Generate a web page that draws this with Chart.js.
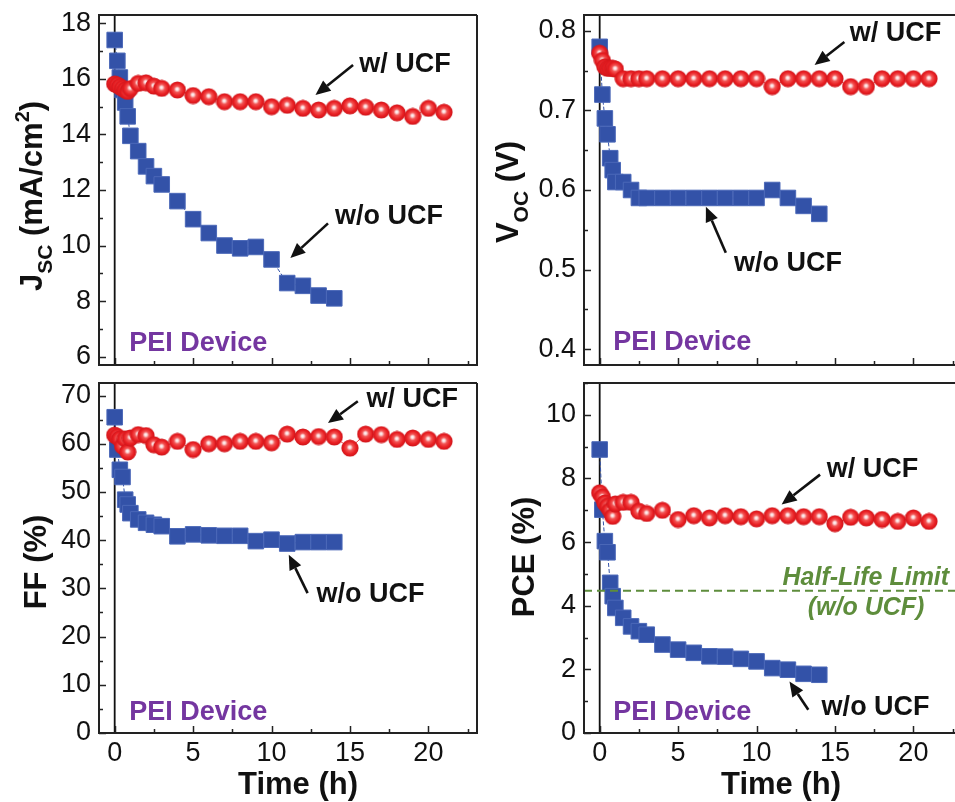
<!DOCTYPE html>
<html>
<head>
<meta charset="utf-8">
<title>PEI device stability</title>
<script src="https://cdn.jsdelivr.net/npm/chart.js@4.4.0/dist/chart.umd.min.js"></script>
<style>
  html, body { margin: 0; padding: 0; background: #fff; width: 955px; height: 802px; overflow: hidden; }
  .panel { position: absolute; }
</style>
</head>
<body>
<canvas class="panel" id="c-jsc" width="480" height="385" style="left:0;top:0"></canvas>
<canvas class="panel" id="c-voc" width="490" height="385" style="left:478px;top:0"></canvas>
<canvas class="panel" id="c-ff" width="480" height="422" style="left:0;top:380px"></canvas>
<canvas class="panel" id="c-pce" width="490" height="422" style="left:478px;top:380px"></canvas>

<script>
// ── Data ────────────────────────────────────────────────────────────────
var timeWithout = [0, 0.17, 0.33, 0.5, 0.67, 0.83, 1, 1.5, 2, 2.5, 3,
  4, 5, 6, 7, 8, 9, 10, 11, 12, 13, 14];
var timeWith = [0, 0.17, 0.33, 0.5, 0.67, 0.83, 1, 1.5, 2, 2.5, 3,
  4, 5, 6, 7, 8, 9, 10, 11, 12, 13, 14, 15, 16, 17, 18, 19, 20, 21];

var jscWithout = [17.4, 16.65, 16.05, 15.6, 15.15, 14.65, 13.95, 13.4, 12.85, 12.5, 12.2,
  11.6, 10.95, 10.45, 10.0, 9.9, 9.95, 9.5, 8.65, 8.55, 8.2, 8.1];
var jscWith = [15.82, 15.78, 15.72, 15.66, 15.6, 15.55, 15.65, 15.84, 15.86, 15.74, 15.66,
  15.6, 15.4, 15.36, 15.18, 15.18, 15.18, 15.0, 15.05, 14.94, 14.88, 14.94, 15.03, 14.98,
  14.88, 14.78, 14.65, 14.94, 14.8];

var vocWithout = [0.78, 0.72, 0.69, 0.67, 0.64, 0.625, 0.61, 0.61, 0.60, 0.59, 0.59,
  0.59, 0.59, 0.59, 0.59, 0.59, 0.59, 0.59, 0.60, 0.59, 0.58, 0.57];
var vocWith = [0.772, 0.763, 0.755, 0.753, 0.753, 0.753, 0.752, 0.74, 0.74, 0.74, 0.74,
  0.74, 0.74, 0.74, 0.74, 0.74, 0.74, 0.74, 0.73, 0.74, 0.74, 0.74, 0.74, 0.73,
  0.73, 0.74, 0.74, 0.74, 0.74];

var ffWithout = [65.5, 58.8, 54.6, 53.1, 48.4, 47.4, 45.6, 44.3, 43.6, 43.2, 42.9,
  40.8, 41.2, 41.0, 40.9, 40.9, 39.8, 40.1, 39.3, 39.6, 39.6, 39.6];
var ffWith = [61.8, 61.5, 61.0, 59.5, 61.0, 58.3, 61.2, 61.9, 61.7, 59.8, 59.3,
  60.5, 58.8, 60.0, 60.0, 60.5, 60.5, 60.2, 62.0, 61.4, 61.5, 61.4, 59.1, 62.0,
  61.9, 60.9, 61.2, 60.9, 60.5];

var pceWithout = [8.91, 7.02, 6.03, 5.68, 4.72, 4.3, 3.93, 3.62, 3.35, 3.2, 3.09,
  2.78, 2.62, 2.52, 2.41, 2.4, 2.33, 2.25, 2.04, 1.99, 1.86, 1.83];
var pceWith = [7.55, 7.42, 7.23, 7.13, 7.0, 6.81, 7.2, 7.25, 7.25, 6.97, 6.9,
  7.0, 6.71, 6.83, 6.76, 6.83, 6.8, 6.73, 6.83, 6.83, 6.8, 6.8, 6.58, 6.78,
  6.76, 6.71, 6.65, 6.76, 6.65];

var halfLifePce = 4.47;

// tick values
var xTicks = [0, 5, 10, 15, 20];
var jscTicks = [6, 8, 10, 12, 14, 16, 18];
var vocTicks = [0.4, 0.5, 0.6, 0.7, 0.8];
var ffTicks = [0, 10, 20, 30, 40, 50, 60, 70];
var pceTicks = [0, 2, 4, 6, 8, 10];

// ── Styling ─────────────────────────────────────────────────────────────
var FONT = "'Liberation Sans', Arial, Helvetica, sans-serif";
var BLUE = "#3352a8";
var INK = "#111";
var PURPLE = "#7436a0";
var GREEN = "#5e8d3c";

function makeBall(d) {
  var c = document.createElement("canvas");
  c.width = d; c.height = d;
  var g = c.getContext("2d");
  var r = d / 2;
  var grad = g.createRadialGradient(r - 0.3, r - 1, 0, r, r, r);
  grad.addColorStop(0, "#ffffff");
  grad.addColorStop(0.15, "#fcdada");
  grad.addColorStop(0.36, "#f25454");
  grad.addColorStop(0.7, "#e91e22");
  grad.addColorStop(1, "#c9141a");
  g.fillStyle = grad;
  g.beginPath();
  g.arc(r, r, r - 0.4, 0, Math.PI * 2);
  g.fill();
  return c;
}
var ball = makeBall(18);

function pts(xs, ys) {
  return xs.map(function (t, i) { return { x: t, y: ys[i] }; });
}

function drawArrow(ctx, x1, y1, x2, y2) {
  var ang = Math.atan2(y2 - y1, x2 - x1);
  var hl = 15, hw = 6.5;
  var bx = x2 - hl * Math.cos(ang), by = y2 - hl * Math.sin(ang);
  ctx.strokeStyle = INK;
  ctx.fillStyle = INK;
  ctx.lineWidth = 2.6;
  ctx.beginPath();
  ctx.moveTo(x1, y1);
  ctx.lineTo(bx, by);
  ctx.stroke();
  ctx.beginPath();
  ctx.moveTo(x2, y2);
  ctx.lineTo(bx + hw * Math.sin(ang), by - hw * Math.cos(ang));
  ctx.lineTo(bx - hw * Math.sin(ang), by + hw * Math.cos(ang));
  ctx.closePath();
  ctx.fill();
}

// rotated y title made of parts (allows sub/superscripts)
function drawRichVertical(ctx, parts, cx, cy, size) {
  ctx.save();
  ctx.translate(cx, cy);
  ctx.rotate(-Math.PI / 2);
  ctx.textBaseline = "alphabetic";
  ctx.textAlign = "left";
  var total = 0;
  parts.forEach(function (p) {
    ctx.font = "bold " + (p.size || size) + "px " + FONT;
    p.w = ctx.measureText(p.t).width;
    total += p.w;
  });
  var x = -total / 2, base = size * 0.358;
  ctx.fillStyle = INK;
  parts.forEach(function (p) {
    ctx.font = "bold " + (p.size || size) + "px " + FONT;
    ctx.fillText(p.t, x, base + (p.dy || 0));
    x += p.w;
  });
  ctx.restore();
}

// keep the plot box exactly where we put it
function fixedBox(s, w, h) {
  if (w != null) s.width = w;
  if (h != null) s.height = h;
  s.paddingTop = s.paddingBottom = s.paddingLeft = s.paddingRight = 0;
}

// ── Plugin: frame, inward ticks, zero line, labels and arrows ──────────
var decor = {
  id: "decor",
  beforeDatasetsDraw: function (chart) {
    var a = chart.chartArea, ctx = chart.ctx;
    var x0 = chart.scales.x.getPixelForValue(0);
    ctx.save();
    ctx.strokeStyle = INK;
    ctx.lineWidth = 1.8;
    ctx.beginPath();
    ctx.moveTo(x0, a.top);
    ctx.lineTo(x0, a.bottom);
    ctx.stroke();
    ctx.restore();
  },
  afterDatasetsDraw: function (chart, args, o) {
    var a = chart.chartArea, ctx = chart.ctx;
    var sx = chart.scales.x, sy = chart.scales.y;
    ctx.save();

    // half-life line
    if (o.halfLife != null) {
      var hy = sy.getPixelForValue(o.halfLife);
      ctx.strokeStyle = GREEN;
      ctx.lineWidth = 2;
      ctx.setLineDash([8, 5]);
      ctx.beginPath();
      ctx.moveTo(a.left, hy);
      ctx.lineTo(a.right, hy);
      ctx.stroke();
      ctx.setLineDash([]);
    }

    // frame
    ctx.strokeStyle = "#222";
    ctx.lineWidth = 2;
    ctx.beginPath();
    ctx.moveTo(a.right, a.top);
    ctx.lineTo(a.left, a.top);
    ctx.lineTo(a.left, a.bottom);
    ctx.lineTo(a.right, a.bottom);
    if (o.rightBorder) ctx.lineTo(a.right, a.top);
    ctx.stroke();

    // inward ticks
    ctx.lineWidth = 1.5;
    ctx.beginPath();
    var ys = o.yTicks, step = ys[1] - ys[0];
    ys.forEach(function (v) {
      [v, v + step / 2].forEach(function (t, k) {
        if (t > sy.max) return;
        var py = Math.round(sy.getPixelForValue(t)) + 0.5;
        ctx.moveTo(a.left, py);
        ctx.lineTo(a.left + (k ? 4 : 7), py);
      });
    });
    xTicks.forEach(function (v) {
      [v, v + 2.5].forEach(function (t, k) {
        if (t > sx.max) return;
        var px = Math.round(sx.getPixelForValue(t)) + 0.5;
        ctx.moveTo(px, a.bottom);
        ctx.lineTo(px, a.bottom - (k ? 4 : 7));
      });
    });
    ctx.stroke();

    // arrows
    (o.arrows || []).forEach(function (ar) {
      drawArrow(ctx, sx.getPixelForValue(ar[0]), sy.getPixelForValue(ar[1]),
        sx.getPixelForValue(ar[2]), sy.getPixelForValue(ar[3]));
    });

    // texts
    ctx.textBaseline = "middle";
    (o.texts || []).forEach(function (tx) {
      ctx.font = (tx.style || "bold") + " " + (tx.size || 27) + "px " + FONT;
      ctx.fillStyle = tx.color || INK;
      ctx.textAlign = tx.align || "left";
      ctx.fillText(tx.text, sx.getPixelForValue(tx.x), sy.getPixelForValue(tx.y));
    });

    // axis titles
    drawRichVertical(ctx, o.yTitle, o.yTitlePos[0], o.yTitlePos[1], 31);
    if (o.xTitlePos) {
      ctx.font = "bold 31px " + FONT;
      ctx.fillStyle = INK;
      ctx.textAlign = "center";
      ctx.textBaseline = "middle";
      ctx.fillText("Time (h)", o.xTitlePos[0], o.xTitlePos[1]);
    }
    ctx.restore();
  }
};

function makePanel(id, p) {
  var tickFont = { family: FONT, size: 27, lineHeight: 1.2 };
  return new Chart(document.getElementById(id).getContext("2d"), {
    type: "scatter",
    data: {
      datasets: [{
        label: "w/ UCF",
        data: pts(timeWith, p.withVals),
        order: 0,
        showLine: true,
        borderColor: "rgba(230,30,34,0.8)",
        borderWidth: 1,
        pointStyle: ball,
        pointRadius: 9
      }, {
        label: "w/o UCF",
        data: pts(timeWithout, p.withoutVals),
        order: 1,
        showLine: true,
        borderColor: BLUE,
        borderWidth: 1,
        borderDash: [4, 2],
        pointStyle: "rect",
        pointRadius: 11,
        pointBackgroundColor: BLUE,
        pointBorderColor: "#4b68b8",
        pointBorderWidth: 1
      }]
    },
    options: {
      responsive: false,
      animation: false,
      events: [],
      layout: { padding: p.padding, autoPadding: false },
      plugins: {
        legend: { display: false },
        tooltip: { enabled: false },
        decor: {
          yTicks: p.yTicks,
          yTitle: p.yTitle,
          yTitlePos: p.yTitlePos,
          xTitlePos: p.xTitlePos,
          texts: p.texts,
          arrows: p.arrows,
          halfLife: p.halfLife,
          rightBorder: p.rightBorder
        }
      },
      scales: {
        x: {
          type: "linear",
          min: -1,
          max: 23.1,
          grid: { display: false, drawTicks: false },
          border: { display: false },
          afterBuildTicks: function (s) { s.ticks = xTicks.map(function (v) { return { value: v }; }); },
          afterFit: function (s) { fixedBox(s, null, p.xHeight); },
          ticks: { display: p.showX, padding: 4, font: tickFont, color: INK }
        },
        y: {
          type: "linear",
          min: p.yMin,
          max: p.yMax,
          grid: { display: false, drawTicks: false },
          border: { display: false },
          afterBuildTicks: function (s) { s.ticks = p.yTicks.map(function (v) { return { value: v }; }); },
          afterFit: function (s) { fixedBox(s, p.yWidth, null); },
          ticks: {
            padding: 8,
            font: tickFont,
            color: INK,
            callback: function (v) { return p.fmt ? v.toFixed(1) : String(v); }
          }
        }
      }
    },
    plugins: [decor]
  });
}

document.addEventListener("DOMContentLoaded", function () {
  makePanel("c-jsc", {
    withVals: jscWith, withoutVals: jscWithout,
    yMin: 5.7, yMax: 18.3, yTicks: jscTicks,
    padding: { left: 0, top: 15, right: 3, bottom: 0 },
    yWidth: 99, xHeight: 20, showX: false, rightBorder: true,
    yTitle: [{ t: "J" }, { t: "SC", size: 21, dy: 10 }, { t: " (mA/cm" }, { t: "2", size: 20, dy: -13 }, { t: ")" }],
    yTitlePos: [31, 196],
    texts: [
      { text: "w/ UCF", x: 15.6, y: 16.5 },
      { text: "w/o UCF", x: 14.05, y: 11.04 },
      { text: "PEI Device", x: 0.93, y: 6.49, color: PURPLE }
    ],
    arrows: [[15.2, 16.5, 12.8, 15.42], [13.6, 10.8, 11.2, 9.55]]
  });

  makePanel("c-voc", {
    withVals: vocWith, withoutVals: vocWithout,
    yMin: 0.38, yMax: 0.82, yTicks: vocTicks, fmt: true,
    padding: { left: 0, top: 15, right: 6, bottom: 0 },
    yWidth: 106, xHeight: 20, showX: false, rightBorder: false,
    yTitle: [{ t: "V" }, { t: "OC", size: 21, dy: 10 }, { t: " (V)" }],
    yTitlePos: [29, 192],
    texts: [
      { text: "w/ UCF", x: 15.95, y: 0.797 },
      { text: "w/o UCF", x: 8.56, y: 0.508 },
      { text: "PEI Device", x: 0.86, y: 0.408, color: PURPLE }
    ],
    arrows: [[15.6, 0.786, 13.7, 0.757], [8.04, 0.521, 6.77, 0.579]]
  });

  makePanel("c-ff", {
    withVals: ffWith, withoutVals: ffWithout,
    yMin: 0, yMax: 72.6, yTicks: ffTicks,
    padding: { left: 0, top: 3, right: 3, bottom: 0 },
    yWidth: 99, xHeight: 69, showX: true, rightBorder: true,
    yTitle: [{ t: "FF (%)" }],
    yTitlePos: [35, 182],
    xTitlePos: [298, 405],
    texts: [
      { text: "w/ UCF", x: 16.05, y: 69.1 },
      { text: "w/o UCF", x: 12.87, y: 28.7 },
      { text: "PEI Device", x: 0.93, y: 4.15, color: PURPLE }
    ],
    arrows: [[15.5, 68.8, 13.6, 64.3], [12.3, 29.0, 11.1, 37.0]]
  });

  makePanel("c-pce", {
    withVals: pceWith, withoutVals: pceWithout,
    yMin: 0, yMax: 11, yTicks: pceTicks,
    padding: { left: 0, top: 3, right: 6, bottom: 0 },
    yWidth: 106, xHeight: 69, showX: true, rightBorder: false,
    halfLife: halfLifePce,
    yTitle: [{ t: "PCE (%)" }],
    yTitlePos: [45, 177],
    xTitlePos: [303, 405],
    texts: [
      { text: "w/ UCF", x: 14.47, y: 8.28 },
      { text: "w/o UCF", x: 14.15, y: 0.79 },
      { text: "Half-Life Limit", x: 22.28, y: 4.87, align: "right", style: "italic bold", size: 25, color: GREEN },
      { text: "(w/o UCF)", x: 20.7, y: 3.93, align: "right", style: "italic bold", size: 25, color: GREEN },
      { text: "PEI Device", x: 0.86, y: 0.63, color: PURPLE }
    ],
    arrows: [[14.05, 8.12, 11.6, 7.18], [13.3, 0.73, 12.1, 1.62]]
  });
});
</script>
</body>
</html>
